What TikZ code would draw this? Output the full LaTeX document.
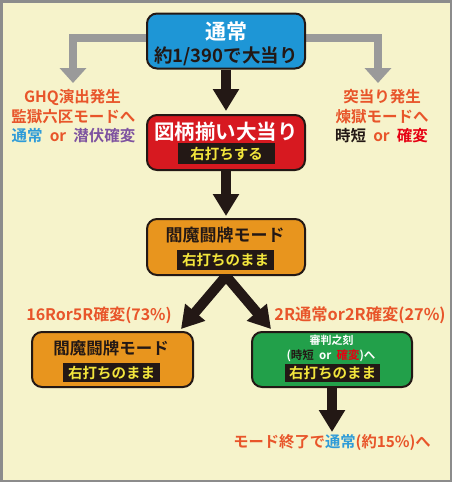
\documentclass[tikz,border=0pt]{standalone}
\usepackage{fontspec}
\setmainfont{Noto Sans CJK JP}[BoldFont={Noto Sans CJK JP Bold}]
\usetikzlibrary{arrows.meta}
\pgfdeclarelayer{back}
\pgfdeclarelayer{bg}
\pgfsetlayers{back,bg,main}
\definecolor{cream}{HTML}{F6F3CB}
\definecolor{frame}{HTML}{8C8C8C}
\definecolor{ink}{HTML}{231815}
\definecolor{boxblue}{HTML}{1E96D6}
\definecolor{boxred}{HTML}{D71920}
\definecolor{boxorange}{HTML}{E8951E}
\definecolor{boxgreen}{HTML}{22A04A}
\definecolor{txtorange}{HTML}{E8552A}
\definecolor{txtblue}{HTML}{2E9BD8}
\definecolor{txtpurple}{HTML}{7E53A0}
\definecolor{txtred}{HTML}{E60012}
\definecolor{lblyellow}{HTML}{F2E53C}
\definecolor{grayarrow}{HTML}{9A9A9A}
\begin{document}
\begin{tikzpicture}[x=1pt,y=-1pt,
  box/.style={draw=ink, line width=2pt, rounded corners=10pt, minimum width=#1, minimum height=55pt, inner sep=0pt},
  box/.default=158pt,
  txt/.style={inner sep=0pt, font=\bfseries\fontsize{#1}{#1}\selectfont},
  lbl/.style={fill=ink, text=lblyellow, inner sep=0pt, minimum height=19pt, font=\bfseries\fontsize{14.5}{14.5}\selectfont},
  note/.style={inner sep=0pt, text=txtorange, font=\bfseries\fontsize{15.5}{15.5}\selectfont},
  bigarr/.style={draw=ink, line width=10pt, -{Triangle[width=25pt,length=22pt]}},
  grayarr/.style={draw=grayarrow, line width=8pt, line join=miter, -{Triangle[width=26pt,length=15pt]}}
]
\useasboundingbox (0,0) rectangle (452,482);
\begin{pgfonlayer}{back}
\fill[cream] (0,0) rectangle (452,482);
\end{pgfonlayer}
\draw[frame, line width=2.5pt] (1.25,1.25) rectangle (450.75,480.75);

% boxes
\node[box, fill=boxblue] (top) at (226,41) {};
\node[box, fill=boxred] (win) at (226,142.5) {};
\node[box, fill=boxorange, minimum height=56pt] (enma) at (226,247) {};
\node[box=161pt, fill=boxorange] (enma2) at (112.5,359.5) {};
\node[box=160pt, fill=boxgreen] (judge) at (332,359.5) {};

% box texts
\node[txt=21, text=white] (t1) at (226,32) {通常};
\node[txt=18.5, text=ink] (t2) at (226,56.5) {約1/390で大当り};
\node[txt=20.5, text=white] (w1) at (226,131.5) {図柄揃い大当り};
\node[lbl, minimum width=97pt, minimum height=21pt] (w2) at (226.5,153.5) {右打ちする};
\node[txt=17, text=ink] (e1) at (225,235) {閻魔闘牌モード};
\node[lbl, minimum width=97pt, minimum height=20pt] (e2) at (225.5,260) {右打ちのまま};
\node[txt=16.5, text=ink] (f1) at (111,348) {閻魔闘牌モード};
\node[lbl, minimum width=97pt] (f2) at (111.5,372.5) {右打ちのまま};
\node[txt=11, text=white] (j1) at (331.5,340.5) {審判之刻};
\node[txt=11.5, text=white] (j2) at (331,356) {(\textcolor{ink}{時短}\ \ or\ \ \textcolor{txtred}{確変})へ};
\node[lbl, minimum width=95pt, minimum height=18pt] (j3) at (332.5,373) {右打ちのまま};

% notes
\node[note] (gl1) at (72.5,97) {GHQ演出発生};
\node[note] (gl2) at (73.5,117) {監獄六区モードへ};
\node[note] (gl3) at (73.5,135.5) {\textcolor{txtblue}{通常}\ \ or\ \ \textcolor{txtpurple}{潜伏確変}};
\node[note] (gr1) at (382,97) {突当り発生};
\node[note] (gr2) at (382,117) {煉獄モードへ};
\node[note] (gr3) at (381.5,135.5) {\textcolor{ink}{時短}\ \ or\ \ \textcolor{txtred}{確変}};
\node[note, font=\bfseries\fontsize{16}{16}\selectfont] (b1) at (99,315) {16Ror5R確変(73\%)};
\node[note, font=\bfseries\fontsize{16.3}{16.3}\selectfont] (b2) at (360,315) {2R通常or2R確変(27\%)};
\node[note, font=\bfseries\fontsize{15.3}{15.3}\selectfont] (end) at (332,443) {モード終了で\textcolor{txtblue}{通常}(約15\%)へ};

% connector end points
\coordinate (gtipL) at (73,83);
\coordinate (gtipR) at (378,83);
\coordinate (dtipL) at (181,329);
\coordinate (dtipR) at (271,329);
\coordinate (etip) at (332,432);

\begin{pgfonlayer}{bg}
\draw[grayarr] ([yshift=3.5pt]top.west) -| (gtipL);
\draw[grayarr] ([yshift=3.5pt]top.east) -| (gtipR);
\draw[bigarr] (top.south) -- ([yshift=3pt]win.north);
\draw[bigarr] (win.south) -- ([yshift=2pt]enma.north);
\draw[bigarr] (enma.south) -- (dtipL);
\draw[bigarr] (enma.south) -- (dtipR);
\draw[bigarr] (judge.south) -- (etip);
\end{pgfonlayer}
\end{tikzpicture}
\end{document}
